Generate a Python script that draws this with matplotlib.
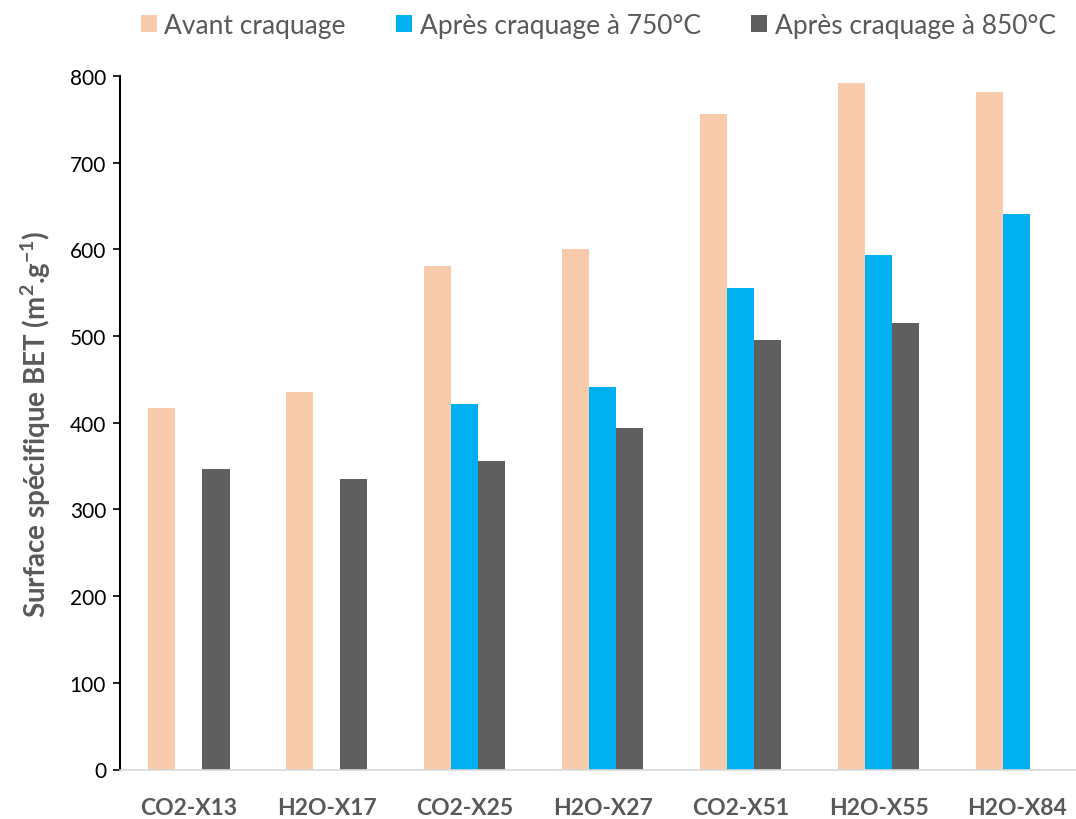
import matplotlib.pyplot as plt
import numpy as np

plt.rcParams['font.family'] = ['Lato', 'DejaVu Sans']
plt.rcParams['mathtext.fontset'] = 'custom'
plt.rcParams['mathtext.rm'] = 'Lato'
plt.rcParams['mathtext.bf'] = 'Lato:bold'

echantillons = ['CO2-X13', 'H2O-X17', 'CO2-X25', 'H2O-X27', 'CO2-X51', 'H2O-X55', 'H2O-X84']
avant = [417, 436, 581, 600, 756, 792, 782]
apres_750 = [0, 0, 422, 441, 555, 593, 641]
apres_850 = [347, 335, 356, 394, 495, 515, 0]

series = ['Avant craquage', 'Après craquage à 750°C', 'Après craquage à 850°C']
couleurs = ['#F8CBAD', '#00B0F0', '#5F5F5F']
gris_texte = '#595959'

fig = plt.figure(figsize=(10.76, 8.20), dpi=100)
ax = fig.add_axes([120 / 1076, 1 - 770.5 / 820, 1 - 120 / 1076, (770.5 - 77) / 820])

x = np.arange(len(echantillons))
largeur = 0.196
for k, (valeurs, nom, c) in enumerate(zip([avant, apres_750, apres_850], series, couleurs)):
    ax.bar(x + (k - 1) * largeur, valeurs, width=largeur, color=c, label=nom)

ax.set_xlim(-0.5, 6.43)
ax.set_ylim(0, 800)
ax.set_yticks(range(0, 801, 100))
ax.tick_params(axis='y', labelsize=15, length=5, width=1.2, direction='out', pad=5, colors='black')
ax.tick_params(axis='x', length=0, labelsize=16.5, pad=20, labelcolor=gris_texte)
ax.set_xticks(x)
ax.set_xticklabels(echantillons, fontweight='bold')

for s in ['top', 'right']:
    ax.spines[s].set_visible(False)
ax.spines['left'].set_linewidth(1.5)
ax.spines['bottom'].set_color('#D9D9D9')
ax.spines['bottom'].set_linewidth(1.2)

ax.set_ylabel(r'Surface spécifique BET (m$\mathbf{^{2}}$.g$\mathbf{^{-1}}$)', fontsize=20,
              fontweight='bold', color=gris_texte, labelpad=12)

fig.legend(loc='upper center', bbox_to_anchor=(0.556, 1.012), ncol=3, frameon=False,
           fontsize=19, handlelength=0.6, handleheight=0.6, handletextpad=0.3,
           columnspacing=1.9, labelcolor=gris_texte)

fig.savefig('out.png', dpi=100)
